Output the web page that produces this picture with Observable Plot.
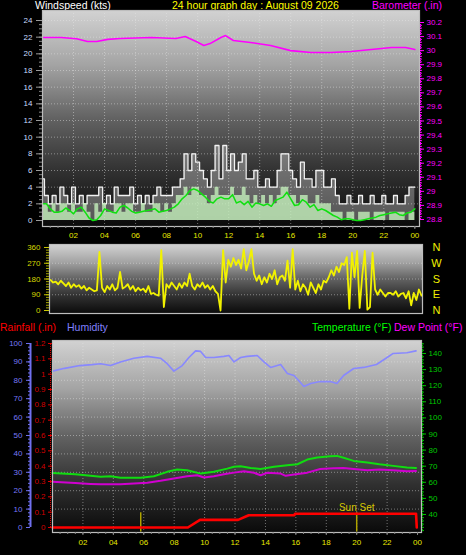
<!DOCTYPE html>
<html><head><meta charset="utf-8">
<script src="https://cdn.jsdelivr.net/npm/d3@7"></script>
<script src="https://cdn.jsdelivr.net/npm/@observablehq/plot@0.6"></script>
<style>
html,body{margin:0;padding:0;background:#000;}
body{width:466px;height:555px;overflow:hidden;position:relative;font-family:"Liberation Sans",Arial,sans-serif;}
.t{position:absolute;font-size:10.5px;white-space:nowrap;line-height:1;}
svg{position:absolute;left:0;top:0;}
</style></head><body>
<div class="t" style="left:35px;top:0px;color:#ffffff">Windspeed (kts)</div>
<div class="t" style="left:172px;top:0px;color:#ffff00">24 hour graph day : August 09 2026</div>
<div class="t" style="left:372px;top:0px;color:#ff00ff">Barometer (.in)</div>
<div class="t" style="left:0px;top:322px;color:#ff0000">Rainfall (.in)</div>
<div class="t" style="left:67px;top:322px;color:#8080ff">Humidity</div>
<div class="t" style="left:312px;top:322px;color:#00ff00">Temperature (°F)</div>
<div class="t" style="left:394px;top:322px;color:#ff00ff">Dew Point (°F)</div>
<div id="root"></div>
<script>
// ---------- data ----------
const hourTicks = [2,4,6,8,10,12,14,16,18,20,22,24];
const hourLabels = ["02","04","06","08","10","12","14","16","18","20","22","00"];

const windStep = 0.25; // hours between wind samples
const windGust = [5,3,2,3,2,4,3,2,4,2,3,2,
  3,3,3,4,2,3,2,4,3,3,3,4,
  2,3,2,3,2,3,4,3,3,3,4,4,
  5,8,6,8,7,6,5,4,6,9,5,9,
  6,8,6,7,8,5,5,6,4,4,5,4,
  4,6,8,8,6,5,4,7,5,5,4,6,
  6,4,4,5,3,2,2,3,2,2,3,2,
  2,3,2,2,3,2,2,3,2,2,3,4,
  4];
const windSpeed = [2,2,1,2,1,2,2,1,2,1,1,2,
  1,0,2,1,2,1,1,2,2,1,2,2,
  1,1,2,1,1,2,2,1,2,1,2,3,
  3,4,3,4,4,3,3,2,3,4,3,3,
  3,4,3,3,4,3,2,3,2,3,2,3,
  2,3,4,4,3,3,2,3,3,2,2,3,
  2,2,2,1,1,1,0,1,1,0,1,1,
  1,0,1,1,1,0,1,1,1,1,0,1,
  1];
const windAvg = [2.0,2.0,1.4,1.0,1.0,1.1,1.5,1.2,0.8,1.4,1.6,1.0,
  0.3,0.0,0.1,0.6,1.4,1.2,1.0,0.9,1.6,1.8,1.5,1.1,
  0.9,1.0,1.1,1.2,1.3,1.4,1.0,1.1,1.2,1.4,1.6,2.0,
  2.6,3.0,3.6,3.8,3.6,3.2,2.8,2.3,2.1,2.6,2.8,2.6,
  2.6,3.1,2.1,2.3,1.9,2.3,1.6,2.1,2.0,1.8,2.0,1.7,
  2.4,2.6,2.8,3.4,2.6,1.8,1.9,2.5,2.2,1.6,1.9,1.2,
  1.4,1.2,0.9,0.6,0.4,0.1,0.2,0.2,0.1,0.0,0.0,0.1,
  0.2,0.3,0.4,0.6,0.7,0.8,0.9,1.0,0.7,0.6,0.9,1.0,
  1.4];

const baroHours = [0,1.2,2.2,2.9,3.5,4.2,5,7,8.6,9.2,9.9,10.4,10.8,11.5,11.8,12.3,13.4,14.7,16,17.3,18.6,19.9,21.2,22.5,23.4,24];
const baroValues = [30.093,30.093,30.085,30.065,30.065,30.08,30.086,30.093,30.086,30.10,30.065,30.037,30.05,30.093,30.107,30.072,30.058,30.037,30.0,29.987,29.987,29.994,30.008,30.022,30.022,30.008];

const speedTicks = [0,2,4,6,8,10,12,14,16,18,20,22,24];
const baroTicks = [28.8,28.9,29,29.1,29.2,29.3,29.4,29.5,29.6,29.7,29.8,29.9,30,30.1,30.2];

const dirStep = 1/6; // hours between direction samples
const windDir = [175,160,165,150,170,155,
  140,160,130,150,135,145,
  125,140,115,130,120,110,
  115,335,130,105,140,120,
  150,115,130,220,125,135,
  150,120,140,110,130,115,
  125,105,140,95,100,90,
  85,345,20,150,130,160,
  140,120,155,130,160,140,
  210,140,120,150,135,160,
  130,145,120,140,110,95,
  0,345,160,290,250,300,
  260,290,240,350,230,280,
  350,210,170,200,150,190,
  160,210,180,230,150,190,
  200,170,285,130,350,120,
  170,110,150,130,90,160,
  130,100,150,120,170,160,
  190,230,200,250,220,270,
  260,305,10,330,190,340,
  15,200,340,5,20,330,
  120,90,120,100,80,100,
  100,90,110,80,95,100,
  70,110,30,100,60,120,
  85];
const dirTicks = [0,90,180,270,360];
const dirLetters = ["N","W","S","E","N"];
const dirLetterDeg = [360,270,180,90,0];

const humHours = [0,0.8,1.8,2.6,3.16,3.82,4.47,5.35,6.23,7.1,7.54,7.98,8.53,8.97,9.41,9.74,10.07,10.61,11.27,11.6,11.93,12.37,12.8,13.46,13.9,14.34,15.0,15.44,15.88,16.3,16.53,16.97,17.6,18.26,18.7,19.14,19.8,20.46,21.3,22.0,22.4,23.3,23.9];
const humValues = [85,86.5,88,88.5,89,88,90,92,93,92,89,85,88,92.4,96,95.7,92.4,92.4,93,93.5,90,92.4,93,93.5,90,87,88.6,83.7,82.6,78.8,76.6,78.3,79.3,79.3,78.3,82.6,86.4,87,88.6,92.4,94.6,95,96];
const tempHours = [0,1.5,2.5,3.16,3.82,4.47,5.8,6.67,7.54,8.2,8.85,9.74,10.61,11.49,11.93,12.37,13.03,13.68,14.56,15.44,16.1,16.75,17.4,18.26,18.7,19.14,19.8,20.7,21.5,22.4,23.3,23.9];
const tempValues = [65.8,65,64,63.4,63.8,62.8,62.8,63.8,66.5,67.9,67.5,65.4,66.5,68.5,69.6,70,68.9,68.3,69.6,70.6,71.2,74.1,75.4,76.2,76.4,75.2,73.3,72.3,71.2,70.2,69.2,68.9];
const dewHours = [0,1.5,2.5,3.16,4.47,5.35,6.23,7.1,7.98,8.85,9.52,9.96,10.61,11.27,11.93,12.59,13.24,13.68,14.12,15.0,15.33,15.88,16.75,17.6,18.48,19.14,19.8,20.7,21.5,22.4,23.3,23.9];
const dewValues = [60.3,59.5,59,58.8,58.8,59.3,59.7,60.9,62.4,63.8,64.4,63,63.8,65,66,66.9,65.9,64.4,65.9,65.4,64,64.8,66,68.3,68.7,68.9,68.3,67.5,67.9,67.5,66.9,67];
const rainHours = [0,8.9,9.7,12.2,12.9,15.9,15.95,23.9,23.95];
const rainValues = [0,0,0.05,0.05,0.08,0.08,0.09,0.09,0];
const sunHours = [5.8,20.0];
const sunLabels = ["","Sun Set"];

const humTicks = [0,10,20,30,40,50,60,70,80,90,100];
const rainTicks = [0,0.1,0.2,0.3,0.4,0.5,0.6,0.7,0.8,0.9,1,1.1,1.2];
const tempTicks = [40,50,60,70,80,90,100,110,120,130,140];

// ---------- helpers ----------
const FONT = '"Liberation Sans", Arial, sans-serif';
const W = 466, H = 555;
function addGradient(svg, id) {
  svg.insertAdjacentHTML("afterbegin",
    `<defs><linearGradient id="${id}" x1="0" y1="0" x2="0" y2="1">
      <stop offset="0" stop-color="#d2d2d2"/>
      <stop offset="0.25" stop-color="#a4a4a4"/>
      <stop offset="0.5" stop-color="#626262"/>
      <stop offset="0.75" stop-color="#303030"/>
      <stop offset="1" stop-color="#0a0a0a"/>
    </linearGradient></defs>`);
  return svg;
}
const fmt1 = v => String(+v.toFixed(1));
const root = document.getElementById("root");
const gridStyle = {stroke: "#e8e8e8", strokeOpacity: 0.45, strokeDasharray: "1,2"};

// ---------- top: wind speed + barometer ----------
const wind = windGust.map((g, i) => ({h: i * windStep, gust: g, speed: windSpeed[i], avg: windAvg[i]}));
const baro = baroHours.map((h, i) => ({h, v: baroValues[i]}));
const kFromBaro = v => 23.76 - (30.2 - v) * 16.885;
const baroFromK = k => 30.2 - (23.76 - k) / 16.885;

const topPlot = Plot.plot({
  width: W, height: H,
  marginLeft: 42, marginRight: 47, marginTop: 10, marginBottom: H - 226,
  style: {background: "transparent", fontFamily: FONT, fontSize: "8px", overflow: "visible"},
  x: {domain: [0, 24.3], axis: null},
  y: {domain: [-0.72, 25.2], axis: null},
  marks: [
    Plot.frame({fill: "url(#gTop)"}),
    Plot.gridY(speedTicks.filter(d => d > 0), gridStyle),
    Plot.gridX(hourTicks.slice(0, -1), gridStyle),
    Plot.areaY(wind, {x: "h", y: "gust", curve: "step", fill: "#ffffff", fillOpacity: 0.3}),
    Plot.lineY(wind, {x: "h", y: "gust", curve: "step", stroke: "#f2f2f2", strokeWidth: 1.3}),
    Plot.areaY(wind, {x: "h", y: "speed", curve: "step", fill: "#c4f0bc", fillOpacity: 0.8}),
    Plot.lineY(wind, {x: "h", y: "avg", stroke: "#10e010", strokeWidth: 1.5}),
    Plot.lineY(baro, {x: "h", y: d => kFromBaro(d.v), stroke: "#ff00ff", strokeWidth: 1.6}),
    Plot.frame({stroke: "#bdbdbd", strokeWidth: 1.2}),
    Plot.axisY(d3.range(0, 24.01, 0.5), {anchor: "left", tickSize: 3, tickFormat: () => "", stroke: "#8a8a8a"}),
    Plot.axisY(speedTicks, {anchor: "left", tickSize: 6, tickPadding: 4, stroke: "#9a9a9a", fill: "#c8dcff", label: null, fontSize: 8}),
    Plot.ruleX([24.3], {y1: kFromBaro(28.8), y2: kFromBaro(30.2), stroke: "#ff00ff", strokeDasharray: "1,1", dx: 1}),
    Plot.axisY(d3.range(28.8, 30.201, 0.02).map(kFromBaro), {anchor: "right", tickSize: 2, tickFormat: () => "", stroke: "#ff00ff"}),
    Plot.axisY(baroTicks.map(kFromBaro), {anchor: "right", tickSize: 4, tickPadding: 3, stroke: "#ff00ff", fill: "#ff00ff", tickFormat: k => fmt1(baroFromK(k)), label: null, fontSize: 8}),
    Plot.axisX(d3.range(0.5, 24.01, 0.5), {anchor: "bottom", tickSize: 2, tickFormat: () => "", stroke: "#8a8a8a"}),
    Plot.axisX(hourTicks, {anchor: "bottom", tickSize: 3, tickPadding: 3, stroke: "#8a8a8a", fill: "#e8e800", tickFormat: d => hourLabels[hourTicks.indexOf(d)], label: null, fontSize: 8})
  ]
});
root.appendChild(addGradient(topPlot, "gTop"));

// ---------- middle: wind direction ----------
const dir = windDir.map((d, i) => ({h: i * dirStep, d}));
const letters = dirLetters.map((l, i) => ({l, d: dirLetterDeg[i]}));
const midPlot = Plot.plot({
  width: W, height: H,
  marginLeft: 49, marginRight: W - 422, marginTop: 244, marginBottom: H - 313,
  style: {background: "transparent", fontFamily: FONT, fontSize: "8px", overflow: "visible"},
  x: {domain: [-0.065, 24.065], axis: null},
  y: {domain: [-17.1, 377.1], axis: null},
  marks: [
    Plot.frame({fill: "url(#gMid)"}),
    Plot.gridY([90, 180, 270], gridStyle),
    Plot.lineY(dir, {x: "h", y: "d", stroke: "#f2f200", strokeWidth: 1.8}),
    Plot.frame({stroke: "#bdbdbd", strokeWidth: 1.2}),
    Plot.axisY(d3.range(0, 361, 15), {anchor: "left", tickSize: 3, tickFormat: () => "", stroke: "#a8a800"}),
    Plot.axisY(dirTicks, {anchor: "left", tickSize: 5, tickPadding: 4, stroke: "#c8c800", fill: "#d6d600", label: null, fontSize: 8}),
    Plot.text(letters, {y: "d", text: "l", frameAnchor: "right", dx: 14, fill: "#f0f000", fontSize: 11, textAnchor: "middle"})
  ]
});
root.appendChild(addGradient(midPlot, "gMid"));

// ---------- bottom: humidity, rain, temperature, dew point ----------
const r2h = r => r * 100 / 1.2;
const h2r = h => h * 1.2 / 100;
const t2h = t => (174 - (140 - t) * 1.61) / 1.84;
const h2t = h => 140 - (174 - h * 1.84) / 1.61;
const hum = humHours.map((h, i) => ({h, v: humValues[i]}));
const temp = tempHours.map((h, i) => ({h, v: tempValues[i]}));
const dew = dewHours.map((h, i) => ({h, v: dewValues[i]}));
const rain = rainHours.map((h, i) => ({h, v: rainValues[i]}));
const sun = sunHours.map((h, i) => ({h, label: sunLabels[i]}));

const botPlot = Plot.plot({
  width: W, height: H,
  marginLeft: 52, marginRight: W - 421, marginTop: 340, marginBottom: H - 532,
  style: {background: "transparent", fontFamily: FONT, fontSize: "8px", overflow: "visible"},
  x: {domain: [0, 24.26], axis: null},
  y: {domain: [-2.72, 101.63], axis: null},
  marks: [
    Plot.frame({fill: "url(#gBot)"}),
    Plot.gridY(humTicks.filter(d => d > 0 && d < 100), gridStyle),
    Plot.gridX(hourTicks.slice(0, -1), gridStyle),
    Plot.lineY(hum, {x: "h", y: "v", stroke: "#8888ff", strokeWidth: 1.6}),
    Plot.lineY(temp, {x: "h", y: d => t2h(d.v), stroke: "#10dd10", strokeWidth: 2}),
    Plot.lineY(dew, {x: "h", y: d => t2h(d.v), stroke: "#d000d0", strokeWidth: 2}),
    Plot.ruleX(sun, {x: "h", y1: -2.5, y2: 8, stroke: "#b0a400", strokeWidth: 1.5}),
    Plot.text(sun, {x: "h", y: 8, text: "label", dy: -2, lineAnchor: "bottom", fill: "#d8c800", fontSize: 10}),
    Plot.lineY(rain, {x: "h", y: d => r2h(d.v), stroke: "#ff0000", strokeWidth: 2.6}),
    Plot.frame({stroke: "#bdbdbd", strokeWidth: 1.2}),
    // humidity axis (outer left)
    Plot.ruleX([0], {y1: 0, y2: 100, dx: -22, stroke: "#7070f0", strokeWidth: 2}),
    Plot.axisY(d3.range(0, 100.1, 2), {anchor: "left", dx: -22, tickSize: 2, tickFormat: () => "", stroke: "#7070f0"}),
    Plot.axisY(humTicks, {anchor: "left", dx: -22, tickSize: 4, tickPadding: 4, stroke: "#7070f0", fill: "#7878f8", label: null, fontSize: 8}),
    // rain axis
    Plot.ruleX([0], {y1: 0, y2: 100, dx: -2, stroke: "#dd0000", strokeDasharray: "1,1"}),
    Plot.axisY(rainTicks.map(r2h), {anchor: "left", tickSize: 4, tickPadding: 3, stroke: "#dd0000", fill: "#d00000", tickFormat: d => fmt1(h2r(d)), label: null, fontSize: 8}),
    // temperature axis (right)
    Plot.ruleX([24.26], {y1: t2h(30), y2: t2h(146), dx: 1, stroke: "#00c000", strokeDasharray: "1,1"}),
    Plot.axisY(d3.range(30, 146.1, 2).map(t2h), {anchor: "right", tickSize: 2, tickFormat: () => "", stroke: "#00c000"}),
    Plot.axisY(tempTicks.map(t2h), {anchor: "right", tickSize: 4, tickPadding: 3, stroke: "#00c000", fill: "#00c800", tickFormat: d => String(Math.round(h2t(d))), label: null, fontSize: 8}),
    Plot.axisX(d3.range(0.5, 24.01, 0.5), {anchor: "bottom", tickSize: 2, tickFormat: () => "", stroke: "#8a8a8a"}),
    Plot.axisX(hourTicks, {anchor: "bottom", tickSize: 3, tickPadding: 4, stroke: "#8a8a8a", fill: "#e8e800", tickFormat: d => hourLabels[hourTicks.indexOf(d)], label: null, fontSize: 8})
  ]
});
root.appendChild(addGradient(botPlot, "gBot"));
</script>
</body></html>
